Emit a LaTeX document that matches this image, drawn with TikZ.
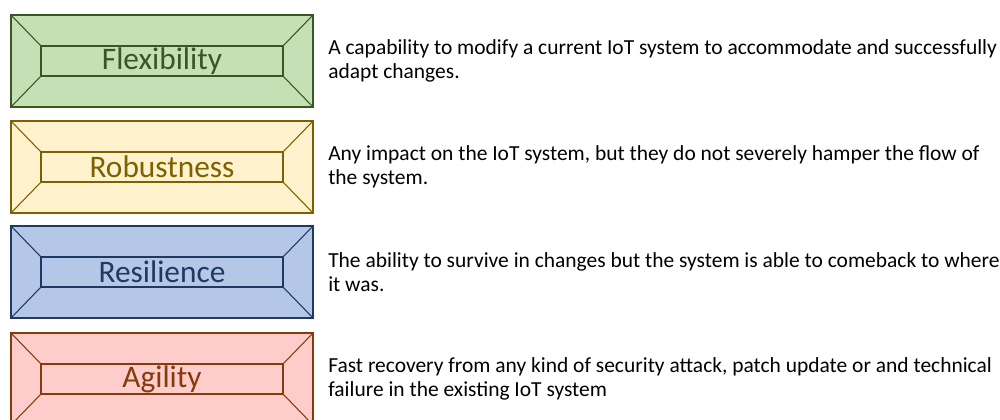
\documentclass[tikz,border=0pt]{standalone}
\usepackage{fontspec}
\setmainfont{Carlito}
\definecolor{gfill}{HTML}{C5E0B4}
\definecolor{gline}{HTML}{385723}
\definecolor{yfill}{HTML}{FFF2CC}
\definecolor{yline}{HTML}{7F6000}
\definecolor{bfill}{HTML}{B4C7E7}
\definecolor{bline}{HTML}{203864}
\definecolor{rfill}{HTML}{FFCCCC}
\definecolor{rline}{HTML}{843C0C}

\begin{document}
\begin{tikzpicture}[x=0.75pt,y=-0.75pt,
  outer/.style={shape=rectangle,line width=0.8pt,outer sep=0pt,inner sep=0pt,minimum width=226.5pt,minimum height=69pt},
  inner/.style={shape=rectangle,line width=1pt,outer sep=0pt,inner sep=0pt,minimum width=181.5pt,minimum height=22.5pt,font=\fontsize{23.5}{27}\selectfont},
  desc/.style={anchor=west,align=left,inner sep=0pt,font=\fontsize{16.1}{18}\selectfont}]
\clip (0,0) rectangle (1000,419);

\node[outer,draw=gline,fill=gfill] (0) at (162,61) {};
\node[inner,draw=gline,text=gline] (1) at (162,61) {Flexibility};
\node[outer,draw=yline,fill=yfill] (2) at (162,167) {};
\node[inner,draw=yline,text=yline] (3) at (162,167) {Robustness};
\node[outer,draw=bline,fill=bfill] (4) at (162,272) {};
\node[inner,draw=bline,text=bline] (5) at (162,272) {Resilience};
\node[outer,draw=rline,fill=rfill] (6) at (162,379) {};
\node[inner,draw=rline,text=rline] (7) at (162,379) {Agility};

\node[desc] (8) at (328,61) {A capability to modify a current IoT system to accommodate and successfully\\adapt changes.};
\node[desc] (9) at (328,167) {Any impact on the IoT system, but they do not severely hamper the flow of\\the system.};
\node[desc] (10) at (328,272) {The ability to survive in changes but the system is able to comeback to where\\it was.};
\node[desc] (11) at (328,379) {Fast recovery from any kind of security attack, patch update or and technical\\failure in the existing IoT system};

\path [-,draw=gline,line width=0.8pt] (0.north west) edge node {} (1.north west);
\path [-,draw=gline,line width=0.8pt] (0.north east) edge node {} (1.north east);
\path [-,draw=gline,line width=0.8pt] (0.south west) edge node {} (1.south west);
\path [-,draw=gline,line width=0.8pt] (0.south east) edge node {} (1.south east);
\path [-,draw=yline,line width=0.8pt] (2.north west) edge node {} (3.north west);
\path [-,draw=yline,line width=0.8pt] (2.north east) edge node {} (3.north east);
\path [-,draw=yline,line width=0.8pt] (2.south west) edge node {} (3.south west);
\path [-,draw=yline,line width=0.8pt] (2.south east) edge node {} (3.south east);
\path [-,draw=bline,line width=0.8pt] (4.north west) edge node {} (5.north west);
\path [-,draw=bline,line width=0.8pt] (4.north east) edge node {} (5.north east);
\path [-,draw=bline,line width=0.8pt] (4.south west) edge node {} (5.south west);
\path [-,draw=bline,line width=0.8pt] (4.south east) edge node {} (5.south east);
\path [-,draw=rline,line width=0.8pt] (6.north west) edge node {} (7.north west);
\path [-,draw=rline,line width=0.8pt] (6.north east) edge node {} (7.north east);
\path [-,draw=rline,line width=0.8pt] (6.south west) edge node {} (7.south west);
\path [-,draw=rline,line width=0.8pt] (6.south east) edge node {} (7.south east);
\end{tikzpicture}
\end{document}
